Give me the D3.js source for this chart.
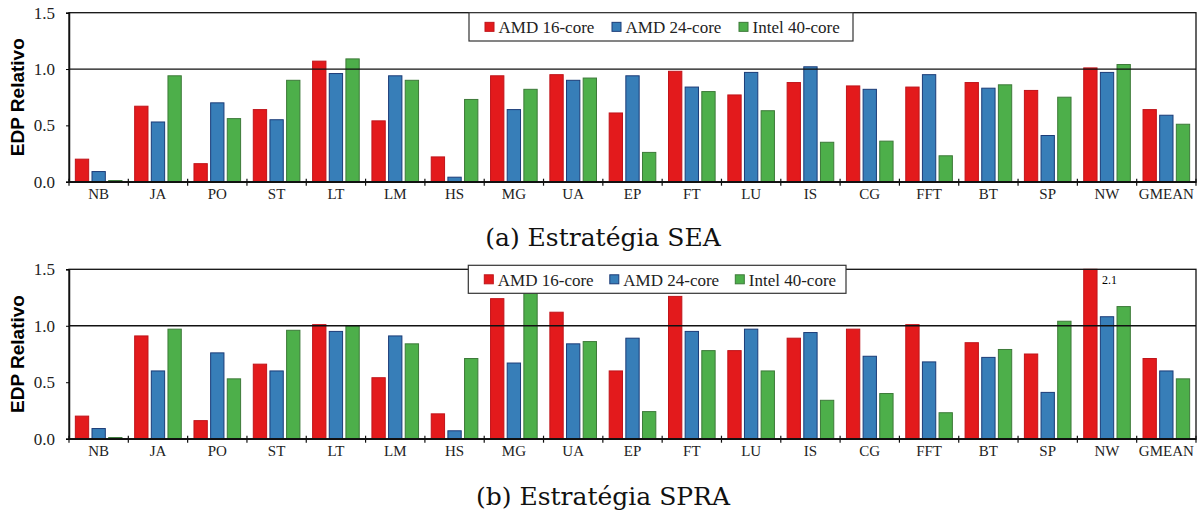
<!DOCTYPE html>
<html>
<head>
<meta charset="utf-8">
<script src="https://cdn.jsdelivr.net/npm/d3@7"></script>
<style>
  body { margin: 0; background: #fff; }
  svg { display: block; }
</style>
</head>
<body>
<div id="chart"></div>
<script>
// --- data ---
let categories = ["NB","JA","PO","ST","LT","LM","HS","MG","UA","EP","FT","LU","IS","CG","FFT","BT","SP","NW","GMEAN"];
let series_names = ["AMD 16-core","AMD 24-core","Intel 40-core"];
let y_ticks = [0, 0.5, 1.0, 1.5];

// (a) SEA
let sea_amd16   = [0.20,0.67,0.16,0.64,1.07,0.54,0.22,0.94,0.95,0.61,0.98,0.77,0.88,0.85,0.84,0.88,0.81,1.01,0.64];
let sea_amd24   = [0.09,0.53,0.70,0.55,0.96,0.94,0.04,0.64,0.90,0.94,0.84,0.97,1.02,0.82,0.95,0.83,0.41,0.97,0.59];
let sea_intel40 = [0.01,0.94,0.56,0.90,1.09,0.90,0.73,0.82,0.92,0.26,0.80,0.63,0.35,0.36,0.23,0.86,0.75,1.04,0.51];

// (b) SPRA
let spra_amd16   = [0.20,0.91,0.16,0.66,1.01,0.54,0.22,1.24,1.12,0.60,1.26,0.78,0.89,0.97,1.01,0.85,0.75,2.1,0.71];
let spra_amd24   = [0.09,0.60,0.76,0.60,0.95,0.91,0.07,0.67,0.84,0.89,0.95,0.97,0.94,0.73,0.68,0.72,0.41,1.08,0.60];
let spra_intel40 = [0.01,0.97,0.53,0.96,1.00,0.84,0.71,1.35,0.86,0.24,0.78,0.60,0.34,0.40,0.23,0.79,1.04,1.17,0.53];

let fills   = ["#e31a1c","#377eb8","#4daf4a"];
let strokes = ["#c0141a","#1b3c78","#3d7a39"];

// --- svg ---
let width = 1197, height = 510;
let svg = d3.select("#chart").append("svg")
    .attr("width", width)
    .attr("height", height);

let serif = "'Liberation Serif','Times New Roman',serif";

function drawPanel(p){
  let g = svg.append("g");
  let left = 69, right = 1196;

  let y = d3.scaleLinear().domain([0,1.5]).range([p.bottom, p.top]).clamp(true);
  let x0 = d3.scaleBand().domain(categories).range([left,right])
      .paddingInner(0.214).paddingOuter(0.107);
  let x1 = d3.scaleBand().domain(series_names).range([0, x0.bandwidth()])
      .paddingInner(0.2).paddingOuter(0);

  let rows = categories.map((c,i) => ({cat:c, vals: p.data.map((s,k) => ({name:series_names[k], k:k, v:s[i]}))}));

  // bars
  let groups = g.selectAll(".grp").data(rows).enter().append("g")
      .attr("class","grp")
      .attr("transform", d => "translate(" + x0(d.cat) + ",0)");
  groups.selectAll("rect").data(d => d.vals).enter().append("rect")
      .attr("x", d => x1(d.name))
      .attr("width", x1.bandwidth())
      .attr("y", d => y(d.v))
      .attr("height", d => y(0) - y(d.v))
      .attr("fill", d => fills[d.k])
      .attr("stroke", d => strokes[d.k])
      .attr("stroke-width", 1);

  // values beyond the axis
  rows.forEach(r => r.vals.forEach(d => {
    if (d.v > 1.5) {
      g.append("text")
        .attr("x", x0(r.cat) + x1(d.name) + x1.bandwidth() + 5)
        .attr("y", p.top + 15)
        .style("font-family", serif)
        .style("font-size", "12px")
        .text(d.v.toFixed(1));
    }
  }));

  // reference line at 1.0
  g.append("line")
      .attr("x1", left).attr("x2", right)
      .attr("y1", y(1)).attr("y2", y(1))
      .attr("stroke", "#111").attr("stroke-width", 1.3);

  // frame (top + right)
  g.append("rect")
      .attr("x", left).attr("y", p.top)
      .attr("width", right - left).attr("height", p.bottom - p.top)
      .attr("fill", "none").attr("stroke", "#111").attr("stroke-width", 1.3);

  // y axis
  let yAxis = g.append("g")
      .attr("transform", "translate(" + left + ",0)")
      .call(d3.axisLeft(y).tickValues(y_ticks).tickFormat(d3.format(".1f")).tickSize(3).tickPadding(11));
  yAxis.select(".domain").attr("stroke", "#111").attr("stroke-width", 1.5);
  yAxis.selectAll("text").style("font-family", serif).style("font-size", "17px").attr("fill", "#222");

  // x axis
  let xAxis = g.append("g")
      .attr("transform", "translate(0," + p.bottom + ")")
      .call(d3.axisBottom(x0).tickSize(0).tickPadding(7));
  xAxis.select(".domain").attr("stroke", "#111").attr("stroke-width", 1.5);
  xAxis.selectAll("text").style("font-family", serif).style("font-size", "15px").attr("fill", "#222");

  // separators between groups
  let step = x0.step();
  g.selectAll(".sep").data(d3.range(categories.length + 1)).enter().append("line")
      .attr("x1", i => left + i*step).attr("x2", i => left + i*step)
      .attr("y1", p.bottom - 3).attr("y2", p.bottom + 4)
      .attr("stroke", "#111").attr("stroke-width", 1.2);

  // y title
  g.append("text")
      .attr("transform", "translate(" + 24 + "," + ((p.top + p.bottom)/2) + ") rotate(-90)")
      .style("text-anchor", "middle")
      .style("font-family", "'Liberation Sans',Arial,sans-serif")
      .style("font-weight", "bold")
      .style("font-size", "19px")
      .text("EDP Relativo");

  // legend
  let lg = g.append("g");
  lg.append("rect")
      .attr("x", p.legX).attr("y", p.legY)
      .attr("width", p.legW).attr("height", p.legH)
      .attr("fill", "#fff").attr("stroke", "#333").attr("stroke-width", 1.2);
  series_names.forEach((s,k) => {
    let lx = p.legX + 16 + k*p.legStep;
    lg.append("rect")
      .attr("x", lx).attr("y", p.legY + p.legH/2 - 4.5)
      .attr("width", 9).attr("height", 9)
      .attr("fill", fills[k]).attr("stroke", strokes[k]).attr("stroke-width", 1);
    lg.append("text")
      .attr("x", lx + 13.5).attr("y", p.legY + p.legH/2 + 6.3)
      .style("font-family", serif).style("font-size", "17px").attr("fill", "#222")
      .text(s);
  });

  // caption
  g.append("text")
      .attr("x", 603).attr("y", p.capY)
      .style("text-anchor", "middle")
      .style("font-family", "'DejaVu Serif',serif")
      .style("font-size", "25px")
      .attr("fill", "#111")
      .text(p.caption);
}

drawPanel({data:[sea_amd16, sea_amd24, sea_intel40], top:12.7, bottom:181.7,
  legX:469, legY:12.7, legW:384, legH:28.3, legStep:127, capY:246, caption:"(a) Estratégia SEA"});
drawPanel({data:[spra_amd16, spra_amd24, spra_intel40], top:269.3, bottom:438.7,
  legX:468.3, legY:265.3, legW:377.7, legH:28, legStep:125.5, capY:505, caption:"(b) Estratégia SPRA"});
</script>
</body>
</html>
